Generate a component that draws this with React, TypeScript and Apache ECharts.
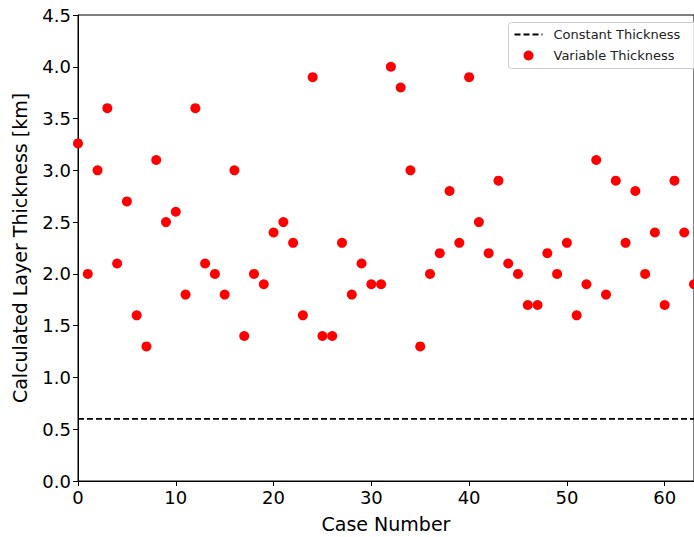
import * as echarts from "echarts";
import { useEffect, useRef } from "react";

const caseNumbers: number[] = Array.from({ length: 64 }, (_, i) => i);
const variableThickness: number[] = [
  3.26, 2.0, 3.0, 3.6, 2.1, 2.7, 1.6, 1.3, 3.1, 2.5,
  2.6, 1.8, 3.6, 2.1, 2.0, 1.8, 3.0, 1.4, 2.0, 1.9,
  2.4, 2.5, 2.3, 1.6, 3.9, 1.4, 1.4, 2.3, 1.8, 2.1,
  1.9, 1.9, 4.0, 3.8, 3.0, 1.3, 2.0, 2.2, 2.8, 2.3,
  3.9, 2.5, 2.2, 2.9, 2.1, 2.0, 1.7, 1.7, 2.2, 2.0,
  2.3, 1.6, 1.9, 3.1, 1.8, 2.9, 2.3, 2.8, 2.0, 2.4,
  1.7, 2.9, 2.4, 1.9
];
const constantThickness = 0.6;
const xRange: [number, number] = [0, 63];
const yRange: [number, number] = [0, 4.5];

const FONT = "DejaVu Sans";

export default function App() {
  const ref = useRef<HTMLDivElement | null>(null);

  useEffect(() => {
    if (!ref.current) {
      return;
    }
    document.body.style.margin = "0";

    const chart = echarts.init(ref.current, undefined, { renderer: "svg" });
    chart.setOption({
      animation: false,
      textStyle: { fontFamily: FONT },
      grid: {
        left: 78,
        right: 0,
        top: 15,
        bottom: 56,
        outerBoundsMode: "none",
        containLabel: false,
        show: true,
        borderColor: "#000",
        borderWidth: 1
      },
      xAxis: {
        type: "value",
        min: xRange[0],
        max: xRange[1],
        interval: 10,
        name: "Case Number",
        nameLocation: "middle",
        nameGap: 33,
        nameTextStyle: { fontSize: 19, color: "#000", fontFamily: FONT },
        axisLine: { lineStyle: { color: "#000" } },
        axisTick: { inside: false, length: 5, lineStyle: { color: "#000" } },
        axisLabel: {
          fontSize: 18,
          color: "#000",
          margin: 7,
          fontFamily: FONT,
          showMaxLabel: false
        },
        splitLine: { show: false }
      },
      yAxis: {
        type: "value",
        min: yRange[0],
        max: yRange[1],
        interval: 0.5,
        name: "Calculated Layer Thickness [km]",
        nameLocation: "middle",
        nameGap: 49,
        nameTextStyle: { fontSize: 19, color: "#000", fontFamily: FONT },
        axisLine: { show: true, lineStyle: { color: "#000" } },
        axisTick: { show: true, inside: false, length: 5, lineStyle: { color: "#000" } },
        axisLabel: {
          fontSize: 18,
          color: "#000",
          margin: 7,
          fontFamily: FONT,
          formatter: (v: number) => v.toFixed(1)
        },
        splitLine: { show: false }
      },
      series: [
        {
          name: "Constant Thickness",
          type: "line",
          data: [
            [xRange[0], constantThickness],
            [xRange[1], constantThickness]
          ],
          symbol: "none",
          lineStyle: { color: "#000", width: 1.8, type: [6, 3] },
          z: 1
        },
        {
          name: "Variable Thickness",
          type: "scatter",
          data: caseNumbers.map((c, i) => [c, variableThickness[i]]),
          symbolSize: 10,
          itemStyle: { color: "#ff0000", opacity: 1 },
          z: 2
        }
      ],
      graphic: [
        {
          type: "group",
          left: 508,
          top: 22,
          children: [
            {
              type: "rect",
              shape: { x: 0, y: 0, width: 194, height: 46, r: 3 },
              style: { fill: "rgba(255,255,255,0.8)", stroke: "#cccccc", lineWidth: 1 }
            },
            {
              type: "line",
              shape: { x1: 6, y1: 12, x2: 34, y2: 12 },
              style: { stroke: "#000", lineWidth: 1.8, lineDash: [6, 3] }
            },
            {
              type: "text",
              style: {
                x: 45,
                y: 12,
                text: "Constant Thickness",
                fontSize: 13,
                fontFamily: FONT,
                fill: "#222",
                verticalAlign: "middle"
              }
            },
            {
              type: "circle",
              shape: { cx: 20, cy: 33, r: 5 },
              style: { fill: "#ff0000" }
            },
            {
              type: "text",
              style: {
                x: 45,
                y: 33,
                text: "Variable Thickness",
                fontSize: 13,
                fontFamily: FONT,
                fill: "#222",
                verticalAlign: "middle"
              }
            }
          ]
        }
      ]
    });

    const resize = () => chart.resize();
    window.addEventListener("resize", resize);
    return () => {
      window.removeEventListener("resize", resize);
      chart.dispose();
    };
  }, []);

  return <div ref={ref} style={{ width: 694, height: 537 }} />;
}
